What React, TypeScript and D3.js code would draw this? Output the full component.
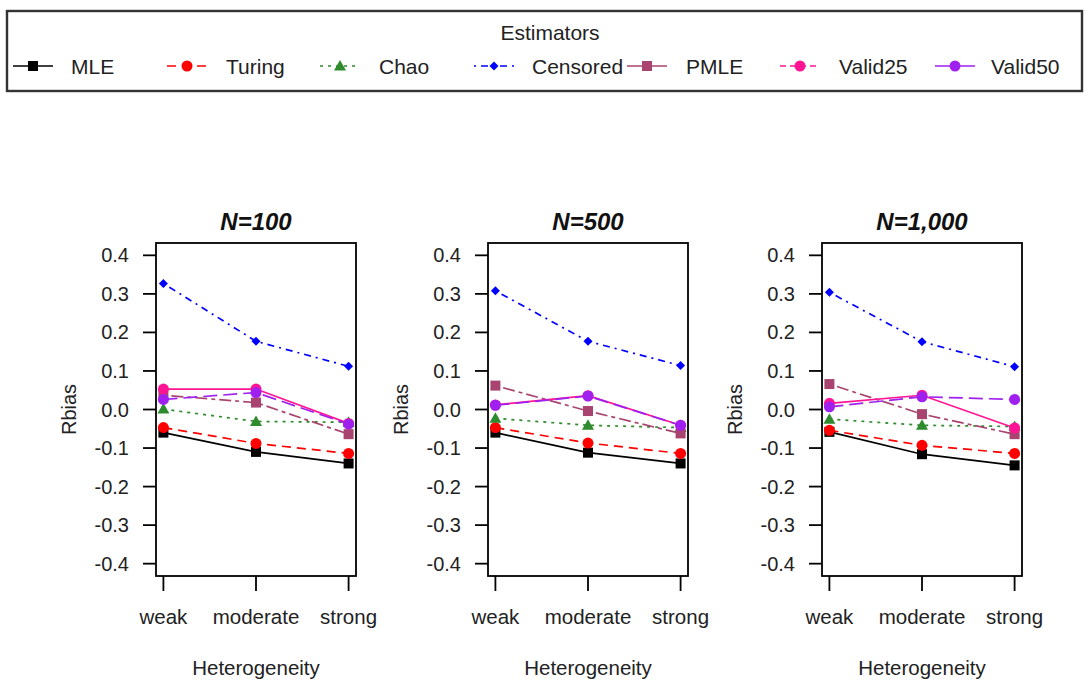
import React from "react";
import * as d3 from "d3";

// Heterogeneity levels on the x axis
const levels = ["weak", "moderate", "strong"];
const yTicks = [0.4, 0.3, 0.2, 0.1, 0.0, -0.1, -0.2, -0.3, -0.4];
const panelTitles = ["N=100", "N=500", "N=1,000"];

// Relative bias per estimator, one triple per sample size (N=100, N=500, N=1,000)
const mle = [
  [-0.06, -0.11, -0.14],
  [-0.06, -0.112, -0.14],
  [-0.058, -0.116, -0.145],
];
const turing = [
  [-0.047, -0.088, -0.114],
  [-0.047, -0.087, -0.114],
  [-0.054, -0.093, -0.114],
];
const chao = [
  [0.001, -0.031, -0.033],
  [-0.023, -0.041, -0.047],
  [-0.025, -0.041, -0.044],
];
const censored = [
  [0.327, 0.177, 0.112],
  [0.308, 0.177, 0.114],
  [0.304, 0.176, 0.111],
];
const pmle = [
  [0.037, 0.018, -0.064],
  [0.062, -0.004, -0.062],
  [0.066, -0.012, -0.064],
];
const valid25 = [
  [0.053, 0.053, -0.036],
  [0.012, 0.036, -0.041],
  [0.016, 0.037, -0.048],
];
const valid50 = [
  [0.026, 0.044, -0.038],
  [0.011, 0.035, -0.041],
  [0.007, 0.033, 0.026],
];

type Shape = "square" | "circle" | "triangle" | "diamond";
interface Series {
  name: string;
  values: number[][];
  color: string;
  shape: Shape;
  plotDash: string;
  legendDash: string;
}

const series: Series[] = [
  { name: "MLE", values: mle, color: "#000000", shape: "square", plotDash: "none", legendDash: "none" },
  { name: "Turing", values: turing, color: "#FF0000", shape: "circle", plotDash: "9,6", legendDash: "9,6" },
  { name: "Chao", values: chao, color: "#2E8B2E", shape: "triangle", plotDash: "3,5", legendDash: "3,5" },
  { name: "Censored", values: censored, color: "#0000FF", shape: "diamond", plotDash: "2,5,7,5", legendDash: "2,5,7,5" },
  { name: "PMLE", values: pmle, color: "#A8446F", shape: "square", plotDash: "4,4,12,4", legendDash: "none" },
  { name: "Valid25", values: valid25, color: "#FF1493", shape: "circle", plotDash: "none", legendDash: "6,4" },
  { name: "Valid50", values: valid50, color: "#A020F0", shape: "circle", plotDash: "14,6", legendDash: "none" },
];

const FONT = "Liberation Sans, Arial, sans-serif";
const panelLefts = [156, 488, 822];
const boxW = 200;
const boxTop = 243;
const boxBottom = 576;

function Marker({ shape, x, y, color }: { shape: Shape; x: number; y: number; color: string }) {
  if (shape === "square") return <rect x={x - 5} y={y - 5} width={10} height={10} fill={color} />;
  if (shape === "circle") return <circle cx={x} cy={y} r={5.5} fill={color} />;
  if (shape === "triangle")
    return <path d={`M${x},${y - 6}L${x + 6},${y + 4.5}L${x - 6},${y + 4.5}Z`} fill={color} />;
  return <path d={`M${x},${y - 4.5}L${x + 4.5},${y}L${x},${y + 4.5}L${x - 4.5},${y}Z`} fill={color} />;
}

function Panel({ idx }: { idx: number }) {
  const left = panelLefts[idx];
  const x = d3.scaleLinear().domain([0.92, 3.08]).range([left, left + boxW]);
  const y = d3.scaleLinear().domain([-0.432, 0.432]).range([boxBottom, boxTop]);
  const line = d3
    .line<number>()
    .x((_, i) => x(i + 1))
    .y((v) => y(v));
  const cx = left + boxW / 2;
  return (
    <g>
      <text x={cx} y={230} textAnchor="middle" fontFamily={FONT} fontSize={24} fontWeight="bold" fontStyle="italic" fill="#111">
        {panelTitles[idx]}
      </text>
      {series.map((s) => (
        <path
          key={s.name}
          d={line(s.values[idx]) || ""}
          fill="none"
          stroke={s.color}
          strokeWidth={1.7}
          strokeDasharray={s.plotDash}
        />
      ))}
      {series.map((s) =>
        s.values[idx].map((v, i) => (
          <Marker key={s.name + i} shape={s.shape} x={x(i + 1)} y={y(v)} color={s.color} />
        ))
      )}
      <rect x={left} y={boxTop} width={boxW} height={boxBottom - boxTop} fill="none" stroke="#000" strokeWidth={1.8} />
      {yTicks.map((t) => (
        <g key={t}>
          <line x1={left - 13} x2={left} y1={y(t)} y2={y(t)} stroke="#000" strokeWidth={1.8} />
          <text x={left - 27} y={y(t) + 7} textAnchor="end" fontFamily={FONT} fontSize={20} fill="#222">
            {d3.format(".1f")(t).replace("−", "-")}
          </text>
        </g>
      ))}
      {levels.map((l, i) => (
        <g key={l}>
          <line x1={x(i + 1)} x2={x(i + 1)} y1={boxBottom} y2={boxBottom + 15} stroke="#000" strokeWidth={1.8} />
          <text x={x(i + 1)} y={624} textAnchor="middle" fontFamily={FONT} fontSize={20.5} fill="#222">
            {l}
          </text>
        </g>
      ))}
      <text x={cx} y={675} textAnchor="middle" fontFamily={FONT} fontSize={20.5} fill="#222">
        Heterogeneity
      </text>
      <text
        transform={`translate(${left - 80},${(boxTop + boxBottom) / 2}) rotate(-90)`}
        textAnchor="middle"
        fontFamily={FONT}
        fontSize={20}
        fill="#222"
      >
        Rbias
      </text>
    </g>
  );
}

// Legend slots: line start and text start for each estimator
const legendLineX = [13, 167, 320, 474, 627, 780, 935];
const legendTextX = [71, 226, 379, 532, 686, 839, 991];

function Legend() {
  const ly = 66;
  return (
    <g>
      <rect x={7} y={11} width={1075} height={80} fill="#fff" stroke="#333" strokeWidth={2.4} />
      <text x={550} y={40} textAnchor="middle" fontFamily={FONT} fontSize={21} fill="#222">
        Estimators
      </text>
      {series.map((s, i) => (
        <g key={s.name}>
          <line
            x1={legendLineX[i]}
            x2={legendLineX[i] + 40}
            y1={ly}
            y2={ly}
            stroke={s.color}
            strokeWidth={1.7}
            strokeDasharray={s.legendDash}
          />
          <Marker shape={s.shape} x={legendLineX[i] + 20} y={ly} color={s.color} />
          <text x={legendTextX[i]} y={ly + 7.5} fontFamily={FONT} fontSize={21} fill="#222">
            {s.name}
          </text>
        </g>
      ))}
    </g>
  );
}

export default function App() {
  return (
    <svg
      width={1089}
      height={682}
      style={{ position: "absolute", left: 0, top: 0, background: "#fff" }}
    >
      <rect width={1089} height={682} fill="#fff" />
      <Legend />
      {[0, 1, 2].map((i) => (
        <Panel key={i} idx={i} />
      ))}
    </svg>
  );
}
